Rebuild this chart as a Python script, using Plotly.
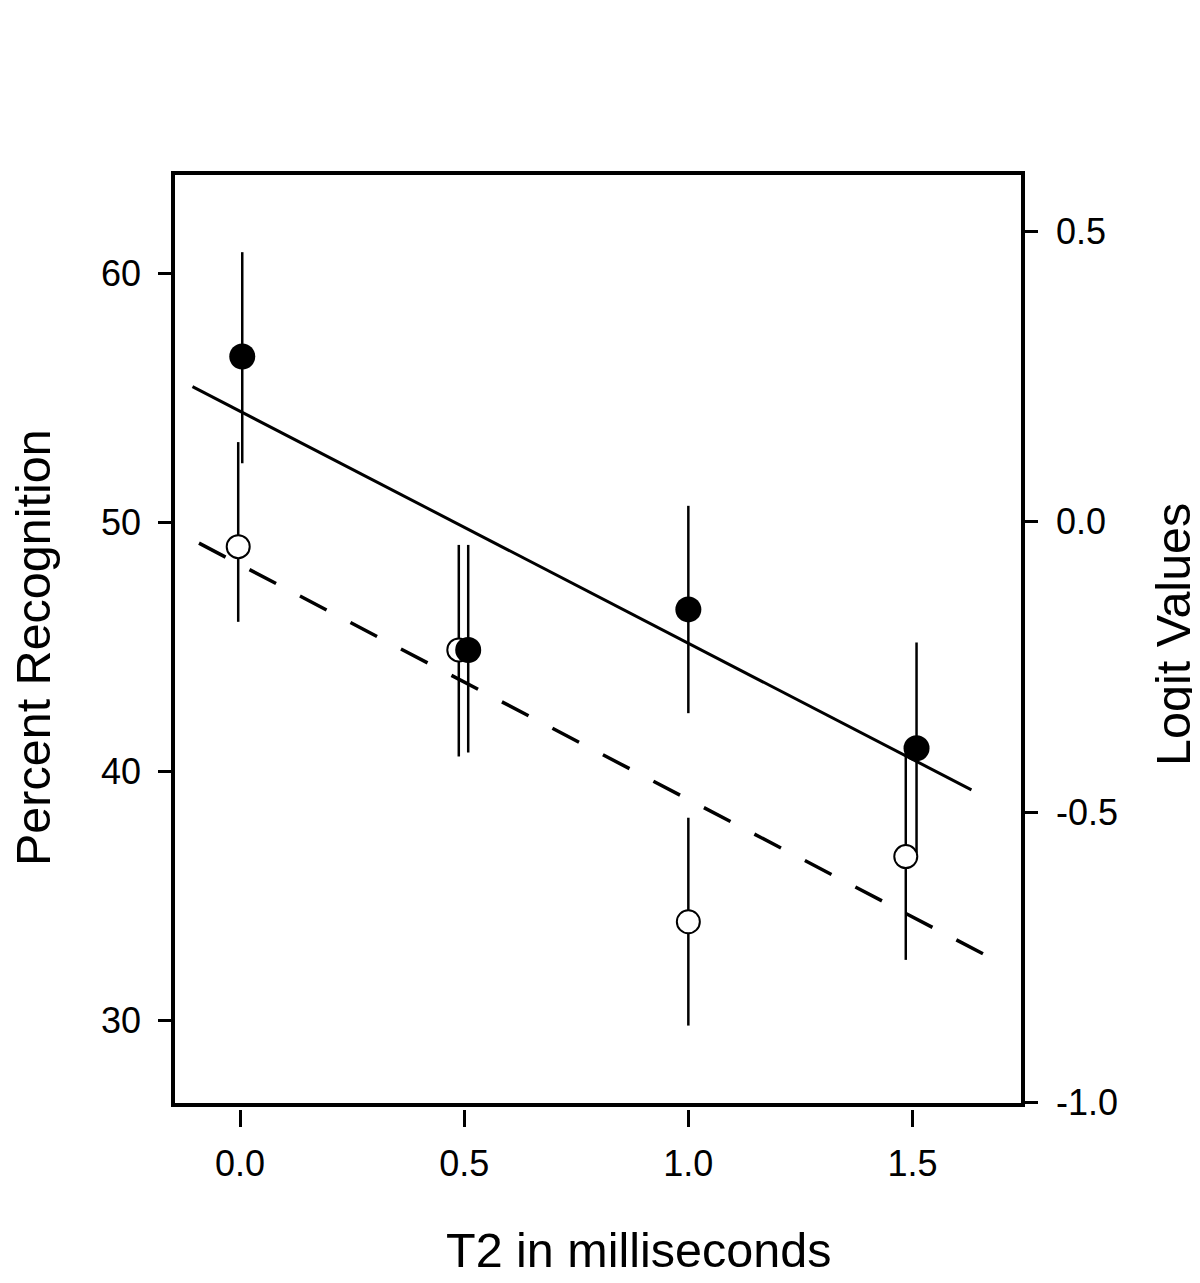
import plotly.graph_objects as go

# ---------------- data ----------------
# filled circles
filled_x = [0.005, 0.509, 1.0, 1.509]
filled_y = [56.68, 44.89, 46.52, 40.94]
filled_hi = [60.87, 49.11, 50.68, 45.19]
filled_lo = [52.39, 40.77, 42.35, 36.74]

# open circles
open_x = [-0.004, 0.488, 1.0, 1.485]
open_y = [49.04, 44.89, 33.97, 36.59]
open_hi = [53.24, 49.11, 38.15, 40.76]
open_lo = [46.02, 40.61, 29.80, 32.44]

# regression lines
solid_x = [-0.106, 1.6315]
solid_y = [55.47, 39.27]
dashed_x = [-0.0915, 1.6946]
dashed_y = [49.18, 32.33]

x_ticks = [0.0, 0.5, 1.0, 1.5]
x_ticklabels = ["0.0", "0.5", "1.0", "1.5"]
y_ticks = [30, 40, 50, 60]
y2_ticks = [-1.0, -0.5, 0.0, 0.5]
y2_ticklabels = ["-1.0", "-0.5", "0.0", "0.5"]

XR = [-0.145, 1.742]
YR = [26.69, 63.97]
Y2R = [-1.0005, 0.5966]

FONT = "Liberation Sans, Arial, sans-serif"

# ---------------- layout geometry (pixels, figure coords) ----------------
OFF = 8  # page offset of the figure
W, H = 1192, 1275
L, R, T, B = 167, 1013, 167, 1095
mb = 168
paper_h = H - T - mb
dom_bottom = ((H - mb) - B) / paper_h
# ticks on x start a few px below axis line
x2_pos = ((H - mb) - (B + 6)) / paper_h

def px_x(px):
    return (px - OFF - L) / (R - L)

def px_y(py):
    return ((H - mb) - (py - OFF)) / paper_h

fig = go.Figure()

# lines
fig.add_trace(go.Scatter(x=solid_x, y=solid_y, mode="lines",
                         line=dict(color="black", width=3), hoverinfo="skip"))
fig.add_trace(go.Scatter(x=dashed_x, y=dashed_y, mode="lines",
                         line=dict(color="black", width=3.5, dash="30px,27px"),
                         hoverinfo="skip"))

# error bars (drawn beneath all markers)
def err_trace(xs, ys, hi, lo):
    return go.Scatter(
        x=xs, y=ys, mode="markers",
        marker=dict(size=1, color="rgba(0,0,0,0)"),
        error_y=dict(type="data", symmetric=False,
                     array=[h - y for h, y in zip(hi, ys)],
                     arrayminus=[y - l for l, y in zip(lo, ys)],
                     width=0, thickness=2.5, color="black"),
        hoverinfo="skip")

fig.add_trace(err_trace(filled_x, filled_y, filled_hi, filled_lo))
fig.add_trace(err_trace(open_x, open_y, open_hi, open_lo))

# open markers
fig.add_trace(go.Scatter(x=open_x, y=open_y, mode="markers",
                         marker=dict(size=23, color="white",
                                     line=dict(color="black", width=2))))
# filled markers
fig.add_trace(go.Scatter(x=filled_x, y=filled_y, mode="markers",
                         marker=dict(size=26, color="black",
                                     line=dict(color="black", width=0))))

# dummy trace to instantiate secondary axes
fig.add_trace(go.Scatter(x=[None], y=[None], xaxis="x2", yaxis="y2",
                         mode="markers", hoverinfo="skip"))

fig.update_layout(
    width=W, height=H,
    margin=dict(l=L, r=W - R, t=T, b=mb),
    plot_bgcolor="white", paper_bgcolor="white",
    showlegend=False,
    font=dict(family=FONT, size=36, color="black"),
    xaxis=dict(range=XR, showline=True, linecolor="black", linewidth=3.5,
               mirror=True, ticks="", showticklabels=False,
               showgrid=False, zeroline=False),
    xaxis2=dict(range=XR, overlaying="x", anchor="free", position=x2_pos,
                showline=False, ticks="outside", ticklen=17, tickwidth=2.5,
                tickcolor="black", tickvals=x_ticks, ticktext=x_ticklabels,
                ticklabelstandoff=6, tickfont=dict(size=36),
                showgrid=False, zeroline=False),
    yaxis=dict(range=YR, domain=[dom_bottom, 1], showline=True,
               linecolor="black", linewidth=3.5, ticks="outside", ticklen=13,
               tickwidth=2.5, tickcolor="black", tickvals=y_ticks,
               ticklabelstandoff=10, tickfont=dict(size=36),
               showgrid=False, zeroline=False),
    yaxis2=dict(range=Y2R, overlaying="y", side="right", anchor="x",
                showline=True, linecolor="black", linewidth=3.5,
                ticks="outside", ticklen=13, tickwidth=2.5, tickcolor="black",
                tickvals=y2_ticks, ticktext=y2_ticklabels,
                ticklabelstandoff=11, tickfont=dict(size=36),
                showgrid=False, zeroline=False),
    annotations=[
        dict(text="T2 in milliseconds", x=px_x(638), y=px_y(1250),
             xref="paper", yref="paper", showarrow=False,
             xanchor="center", yanchor="middle",
             font=dict(size=48.5, family=FONT)),
        dict(text="Percent Recognition", x=px_x(33), y=px_y(648),
             xref="paper", yref="paper", showarrow=False, textangle=-90,
             xanchor="center", yanchor="middle",
             font=dict(size=48.5, family=FONT)),
        dict(text="Logit Values", x=px_x(1173), y=px_y(635),
             xref="paper", yref="paper", showarrow=False, textangle=-90,
             xanchor="center", yanchor="middle",
             font=dict(size=48.5, family=FONT)),
    ],
)

fig.write_html("out.html")
